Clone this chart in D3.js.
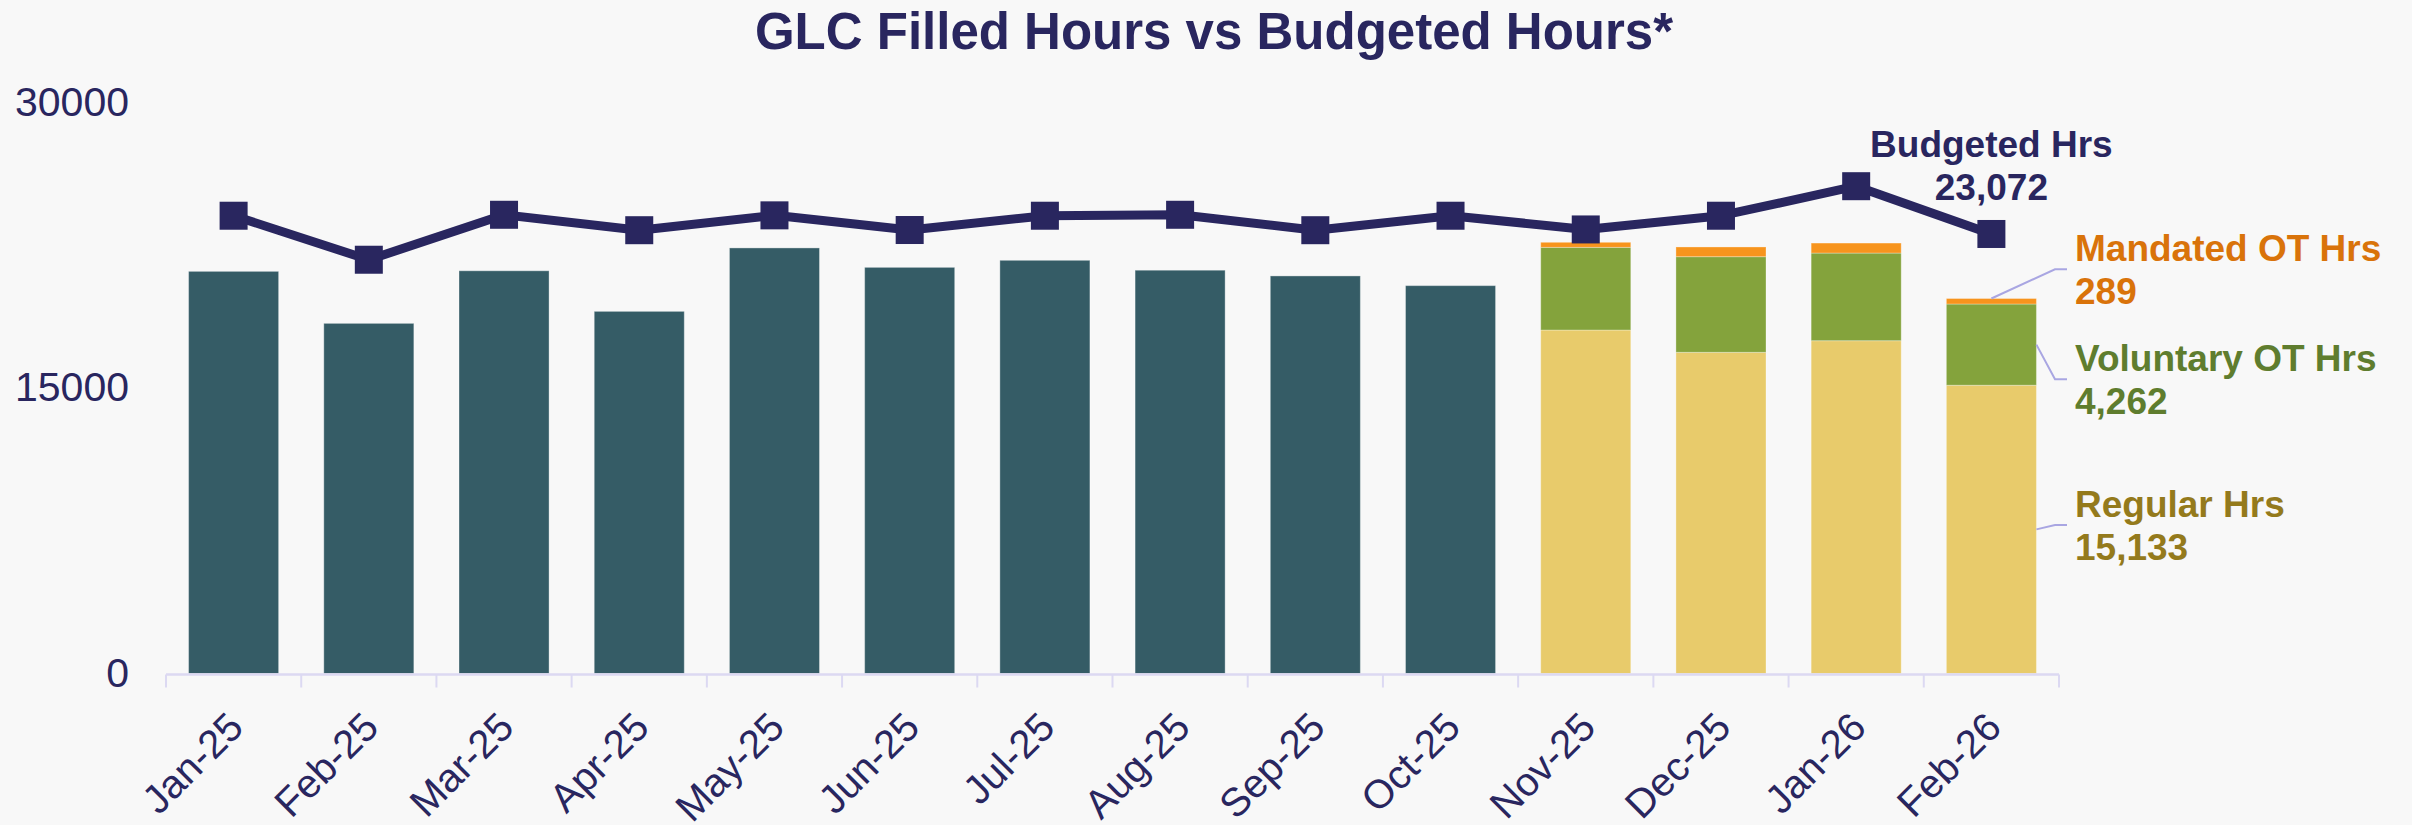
<!DOCTYPE html>
<html>
<head>
<meta charset="utf-8">
<script src="https://cdn.jsdelivr.net/npm/d3@7"></script>
<style>
  html, body { margin: 0; padding: 0; background: #f8f8f8; }
  svg { display: block; font-family: "Liberation Sans", Arial, Helvetica, sans-serif; }
</style>
</head>
<body>
<svg id="chart" width="2412" height="825"></svg>
<script>
// Monthly GLC hours
const months = ["Jan-25", "Feb-25", "Mar-25", "Apr-25", "May-25", "Jun-25", "Jul-25",
                "Aug-25", "Sep-25", "Oct-25", "Nov-25", "Dec-25", "Jan-26", "Feb-26"];
// Total filled hours (months before the regular / OT split)
const filledHrs = [21110, 18380, 21140, 19010, 22340, 21320, 21690,
                   21170, 20870, 20360, null, null, null, null];
// Split of filled hours from Nov-25 on
const regularHrs = [null, null, null, null, null, null, null,
                    null, null, null, 18030, 16860, 17470, 15133];
const voluntaryOtHrs = [null, null, null, null, null, null, null,
                        null, null, null, 4340, 5020, 4600, 4262];
const mandatedOtHrs = [null, null, null, null, null, null, null,
                       null, null, null, 265, 510, 525, 289];
const budgetedHrs = [24030, 21720, 24080, 23270, 24050, 23280, 24030,
                     24080, 23270, 24030, 23310, 24030, 25580, 23072];
const yTicks = [0, 15000, 30000];

const navy = "#29265f";
const colors = {
  filled: "#355c66",
  regular: "#e8cb6b",
  voluntary: "#84a33c",
  mandated: "#f7941d",
  leader: "#a9a6e2",
  axis: "#dcd9f2"
};
const labelColors = { regular: "#947a1c", voluntary: "#5f7d2e", mandated: "#d9730a", budgeted: navy };

const svg = d3.select("#chart");

const x = d3.scaleBand().domain(months).range([166, 2059]).paddingInner(0.334).paddingOuter(0.167);
const y = d3.scaleLinear().domain([0, 30000]).range([673.5, 102]);
const cx = m => x(m) + x.bandwidth() / 2;

// Title
svg.append("text")
  .attr("x", 1214).attr("y", 49)
  .attr("text-anchor", "middle")
  .attr("font-size", 51).attr("font-weight", "bold").attr("fill", navy)
  .text("GLC Filled Hours vs Budgeted Hours*");

// Y axis: labels only
const yAxis = svg.append("g")
  .attr("transform", "translate(129,0)")
  .call(d3.axisLeft(y).tickValues(yTicks).tickSize(0).tickPadding(0).tickFormat(d3.format("d")));
yAxis.select(".domain").remove();
yAxis.selectAll("text")
  .attr("font-size", 41).attr("fill", navy)
  .attr("font-family", "'Liberation Sans', Arial, sans-serif");

// Single-colour bars
const single = months.map((m, i) => ({ m, v: filledHrs[i] })).filter(d => d.v != null);
svg.append("g").selectAll("rect").data(single).join("rect")
  .attr("x", d => x(d.m)).attr("width", x.bandwidth())
  .attr("y", d => y(d.v)).attr("height", d => y(0) - y(d.v))
  .attr("fill", colors.filled)
  .attr("stroke", "rgba(255,255,255,0.35)").attr("stroke-width", 1);

// Stacked bars
const keys = ["regular", "voluntary", "mandated"];
const splitRows = months.map((m, i) => ({
  m, regular: regularHrs[i], voluntary: voluntaryOtHrs[i], mandated: mandatedOtHrs[i]
})).filter(d => d.regular != null);
const stacked = d3.stack().keys(keys)(splitRows);
svg.append("g").selectAll("g").data(stacked).join("g")
  .attr("fill", s => colors[s.key])
  .selectAll("rect").data(s => s).join("rect")
  .attr("x", d => x(d.data.m)).attr("width", x.bandwidth())
  .attr("y", d => y(d[1])).attr("height", d => y(d[0]) - y(d[1]))
  .attr("stroke", "rgba(255,255,255,0.3)").attr("stroke-width", 1);

// X axis
const xAxis = svg.append("g").attr("transform", `translate(0,${y(0) + 1})`);
xAxis.append("line")
  .attr("x1", 166).attr("x2", 2059).attr("y1", 0).attr("y2", 0)
  .attr("stroke", colors.axis).attr("stroke-width", 2.5);
const boundaries = months.map(m => x(m) - x.step() * x.paddingInner() / 2).concat([2059]);
xAxis.selectAll("line.tick").data(boundaries).join("line")
  .attr("class", "tick")
  .attr("x1", d => d).attr("x2", d => d).attr("y1", 0).attr("y2", 13)
  .attr("stroke", colors.axis).attr("stroke-width", 2);
xAxis.selectAll("text").data(months).join("text")
  .attr("transform", m => `translate(${cx(m) + 12},${55}) rotate(-45)`)
  .attr("text-anchor", "end")
  .attr("font-size", 40).attr("fill", navy)
  .text(m => m);

// Budgeted line with square markers
const budget = months.map((m, i) => ({ m, v: budgetedHrs[i] }));
svg.append("path").datum(budget)
  .attr("fill", "none").attr("stroke", navy).attr("stroke-width", 9)
  .attr("stroke-linejoin", "round")
  .attr("d", d3.line().x(d => cx(d.m)).y(d => y(d.v)));
const ms = 28;
svg.append("g").selectAll("rect").data(budget).join("rect")
  .attr("x", d => cx(d.m) - ms / 2).attr("y", d => y(d.v) - ms / 2)
  .attr("width", ms).attr("height", ms)
  .attr("fill", navy);

// Series labels on the latest month
const last = months.length - 1;
const lastM = months[last];
const fmt = d3.format(",");
const lx = 2075;

function twoLine(xp, yp, anchor, color, title, value) {
  const t = svg.append("text")
    .attr("x", xp).attr("y", yp)
    .attr("text-anchor", anchor)
    .attr("font-size", 37).attr("font-weight", "bold").attr("fill", color);
  t.append("tspan").attr("x", xp).attr("y", yp).text(title);
  t.append("tspan").attr("x", xp).attr("y", yp + 43).text(value);
}

// Budgeted label above the last marker
twoLine(cx(lastM), y(budgetedHrs[last]) - 77, "middle", labelColors.budgeted,
        "Budgeted Hrs", fmt(budgetedHrs[last]));

const lastStack = stacked.map(s => ({ key: s.key, seg: s[s.length - 1] }));
const barRight = x(lastM) + x.bandwidth();
const leader = d3.line();

// Leader positions for each segment label
const labelSpecs = {
  mandated: { from: seg => [cx(lastM), y(seg[1])], elbowY: 269.3, title: "Mandated OT Hrs", value: mandatedOtHrs[last] },
  voluntary: { from: seg => [barRight, (y(seg[0]) + y(seg[1])) / 2], elbowY: 379.3, title: "Voluntary OT Hrs", value: voluntaryOtHrs[last] },
  regular: { from: seg => [barRight, (y(seg[0]) + y(seg[1])) / 2], elbowY: 525, title: "Regular Hrs", value: regularHrs[last] }
};

lastStack.forEach(({ key, seg }) => {
  const spec = labelSpecs[key];
  const p0 = spec.from(seg);
  svg.append("path")
    .attr("d", leader([p0, [2055, spec.elbowY], [2067, spec.elbowY]]))
    .attr("fill", "none").attr("stroke", colors.leader).attr("stroke-width", 2);
  twoLine(lx, spec.elbowY - 8, "start", labelColors[key], spec.title, fmt(spec.value));
});
</script>
</body>
</html>
